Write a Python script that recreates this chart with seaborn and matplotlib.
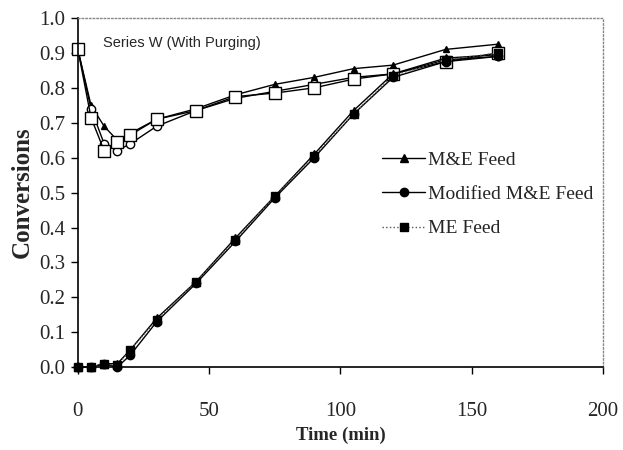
import matplotlib
matplotlib.use("Agg")
import matplotlib.pyplot as plt
import seaborn as sns
import pandas as pd

time_min = [0, 5, 10, 15, 20, 30, 45, 60, 75, 90, 105, 120, 140, 160]

# upper curves (open markers)
me_feed_upper = [0.91, 0.75, 0.69, 0.65, 0.67, 0.71, 0.74, 0.78, 0.81, 0.83, 0.855, 0.865, 0.91, 0.925]
mod_feed_upper = [0.91, 0.74, 0.64, 0.62, 0.64, 0.69, 0.735, 0.77, 0.79, 0.81, 0.83, 0.84, 0.88, 0.89]
mef_feed_upper = [0.91, 0.715, 0.62, 0.645, 0.665, 0.71, 0.735, 0.775, 0.785, 0.80, 0.825, 0.84, 0.875, 0.90]

# lower curves (filled markers)
me_feed_lower = [0.0, 0.0, 0.01, 0.01, 0.05, 0.14, 0.245, 0.37, 0.49, 0.61, 0.735, 0.84, 0.885, 0.895]
mod_feed_lower = [0.0, 0.0, 0.01, 0.0, 0.035, 0.13, 0.24, 0.36, 0.485, 0.60, 0.725, 0.83, 0.875, 0.89]
mef_feed_lower = [0.0, 0.0, 0.01, 0.005, 0.05, 0.135, 0.245, 0.365, 0.49, 0.605, 0.725, 0.835, 0.88, 0.90]

labels = ["M&E Feed", "Modified M&E Feed", "ME Feed"]
x_ticks = [0, 50, 100, 150, 200]
y_ticks = [0.0, 0.1, 0.2, 0.3, 0.4, 0.5, 0.6, 0.7, 0.8, 0.9, 1.0]

sns.set_theme(style="white")
plt.rcParams['font.family'] = ['Liberation Serif', 'DejaVu Serif']

fig = plt.figure(figsize=(6.23, 4.5), dpi=100)
ax = fig.add_axes([0.125, 0.184, 0.843, 0.776])

markers = ["^", "o", "s"]
lower_ls = ["-", "-", ":"]
lower_col = ["black", "black", "#555555"]
upper_ms = [5, 6, 9]
upper_face = ["black", "white", "white"]

uppers = [me_feed_upper, mod_feed_upper, mef_feed_upper]
lowers = [me_feed_lower, mod_feed_lower, mef_feed_lower]

for i in range(3):
    df_u = pd.DataFrame({"t": time_min, "c": uppers[i]})
    sns.lineplot(data=df_u, x="t", y="c", ax=ax, color="black", lw=1.0,
                 linestyle="-", marker=markers[i], markersize=upper_ms[i],
                 markerfacecolor=upper_face[i], markeredgecolor="black",
                 markeredgewidth=1.0, clip_on=False, label="_nolegend_")
for i in range(3):
    df_l = pd.DataFrame({"t": time_min, "c": lowers[i]})
    sns.lineplot(data=df_l, x="t", y="c", ax=ax, color=lower_col[i], lw=1.0,
                 linestyle=lower_ls[i], marker=markers[i], markersize=6,
                 markerfacecolor="black", markeredgecolor="black",
                 markeredgewidth=1.0, clip_on=False, label=labels[i])

ax.set_xlim(0, 200)
ax.set_ylim(0, 1.0)
ax.set_xticks(x_ticks)
ax.set_yticks(y_ticks)
ax.set_yticklabels([f"{v:.1f}" for v in y_ticks])
ax.tick_params(axis="both", which="both", direction="out", length=5, width=1,
               color="black", labelsize=15, bottom=True, left=True)
ax.tick_params(axis="x", pad=20)
ax.tick_params(axis="y", pad=4)

for side in ["left", "bottom"]:
    ax.spines[side].set_color("black")
    ax.spines[side].set_linewidth(1.2)
for side in ["top", "right"]:
    ax.spines[side].set_color("#888888")
    ax.spines[side].set_linestyle(":")
    ax.spines[side].set_linewidth(1.0)

ax.set_xlabel("Time (min)", fontsize=13.5, fontweight="bold", labelpad=4)
ax.set_ylabel("Conversions", fontsize=18, fontweight="bold", labelpad=4)

ax.text(0.048, 0.927, "Series W (With Purging)", transform=ax.transAxes,
        fontsize=10.5, family=["Liberation Sans", "DejaVu Sans"], va="center", ha="left")

leg = ax.legend(loc="upper left", bbox_to_anchor=(0.565, 0.64), frameon=False,
                fontsize=14, handlelength=2.2, handletextpad=0.15, labelspacing=0.85,
                borderaxespad=0)

fig.savefig("out.png", dpi=100)
